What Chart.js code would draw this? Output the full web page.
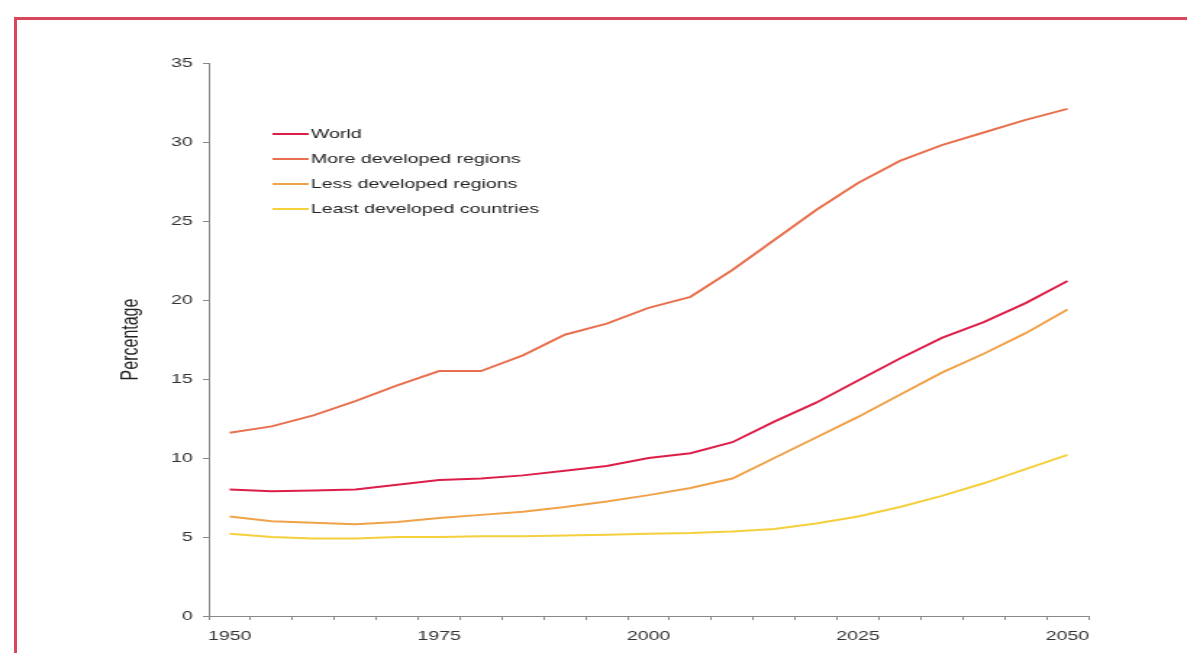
<!DOCTYPE html>
<html>
<head>
<meta charset="utf-8">
<script src="https://cdn.jsdelivr.net/npm/chart.js@4.4.0/dist/chart.umd.min.js"></script>
<style>
html, body { margin: 0; padding: 0; background: #fff; width: 1187px; height: 653px; overflow: hidden; }
#frame { position: absolute; left: 14px; top: 17px; width: 1300px; height: 800px; border: 3px solid #d8465c; box-sizing: border-box; }
/* the source picture is stretched sideways, so the chart is drawn narrow and scaled out */
#wrap { position: absolute; left: 0; top: 0; width: 819px; height: 653px; transform: scaleX(1.4493); transform-origin: 0 0; }
</style>
</head>
<body>
<div id="frame"></div>
<div id="wrap"><canvas id="chart"></canvas></div>
<script>
const years = ['1950','1955','1960','1965','1970','1975','1980','1985','1990','1995','2000',
               '2005','2010','2015','2020','2025','2030','2035','2040','2045','2050'];
const xTickLabels = ['1950', '1975', '2000', '2025', '2050'];

const world         = [8.0, 7.9, 7.95, 8.0, 8.3, 8.6, 8.7, 8.9, 9.2, 9.5, 10.0, 10.3, 11.0, 12.3, 13.5, 14.9, 16.3, 17.6, 18.6, 19.8, 21.2];
const moreDeveloped = [11.6, 12.0, 12.7, 13.6, 14.6, 15.5, 15.5, 16.5, 17.8, 18.5, 19.5, 20.2, 21.9, 23.8, 25.7, 27.4, 28.8, 29.8, 30.6, 31.4, 32.1];
const lessDeveloped = [6.3, 6.0, 5.9, 5.8, 5.95, 6.2, 6.4, 6.6, 6.9, 7.25, 7.65, 8.1, 8.7, 10.0, 11.3, 12.6, 14.0, 15.4, 16.6, 17.9, 19.4];
const leastDeveloped = [5.2, 5.0, 4.9, 4.9, 5.0, 5.0, 5.05, 5.05, 5.1, 5.15, 5.2, 5.25, 5.35, 5.5, 5.85, 6.3, 6.9, 7.6, 8.4, 9.3, 10.2];

const seriesNames = ['World', 'More developed regions', 'Less developed regions', 'Least developed countries'];
const seriesColors = ['#dc1f48', '#e8704e', '#f0a24a', '#f5cf3c'];

const font = '"Liberation Sans", Arial, sans-serif';

// legend sits inside the plot, top left
const legendInside = {
    id: 'legendInside',
    afterDraw(chart) {
        const ctx = chart.ctx;
        ctx.save();
        ctx.font = '13.5px ' + font;
        ctx.textBaseline = 'middle';
        chart.data.datasets.forEach((ds, i) => {
            const y = 134 + i * 25;
            ctx.strokeStyle = ds.borderColor;
            ctx.lineWidth = 2;
            ctx.beginPath(); ctx.moveTo(188, y); ctx.lineTo(213, y); ctx.stroke();
            ctx.fillStyle = '#222';
            ctx.fillText(ds.label, 214.5, y);
        });
        ctx.restore();
    }
};

const mkSet = (i, data) => ({
    label: seriesNames[i], data: data, borderColor: seriesColors[i], backgroundColor: seriesColors[i],
    borderWidth: 2, pointRadius: 0, tension: 0, fill: false
});

new Chart(document.getElementById('chart'), {
    type: 'line',
    data: {
        labels: years,
        datasets: [mkSet(0, world), mkSet(1, moreDeveloped), mkSet(2, lessDeveloped), mkSet(3, leastDeveloped)]
    },
    options: {
        responsive: true, maintainAspectRatio: false, animation: false,
        layout: { padding: { left: 81, right: 68, top: 63, bottom: 0 } },
        plugins: { legend: { display: false }, tooltip: { enabled: false } },
        scales: {
            x: {
                offset: true,
                grid: { offset: true, drawOnChartArea: false, tickLength: 4, color: '#888' },
                border: { color: '#888', width: 1 },
                ticks: {
                    autoSkip: false, maxRotation: 0, padding: 8, color: '#333',
                    font: { family: font, size: 13.5 },
                    callback: (v, i) => xTickLabels.includes(years[i]) ? years[i] : ''
                },
                afterFit: s => { s.height = 37; }
            },
            y: {
                min: 0, max: 35,
                grid: { drawOnChartArea: false, tickLength: 4, color: '#888' },
                border: { color: '#888', width: 1 },
                ticks: { stepSize: 5, padding: 7, color: '#333', font: { family: font, size: 13.5 } },
                title: { display: true, text: 'Percentage', color: '#222', font: { family: font, size: 16 }, padding: { top: 0, bottom: 0 } },
                afterFit: s => { s.width = 63; }
            }
        }
    },
    plugins: [legendInside]
});
</script>
</body>
</html>
